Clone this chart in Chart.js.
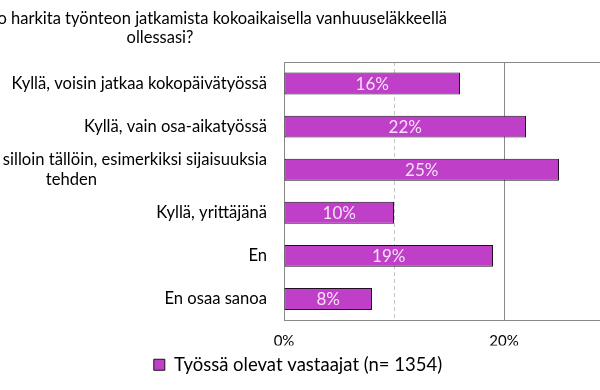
<!DOCTYPE html>
<html><head><meta charset="utf-8">
<script src="https://cdn.jsdelivr.net/npm/chart.js@4.4.0/dist/chart.umd.min.js"></script>
<style>
html,body{margin:0;padding:0;background:#fff;overflow:hidden;width:600px;height:390px;}
#wrap{position:absolute;left:-18px;top:0;width:632px;height:390px;}
</style></head><body>
<div id="wrap"><canvas id="c"></canvas></div>
<script>
const titleLines = ["Voisitko harkita työnteon jatkamista kokoaikaisella vanhuuseläkkeellä", "ollessasi?"];
const categories = [
  "Kyllä, voisin jatkaa kokopäivätyössä",
  "Kyllä, vain osa-aikatyössä",
  ["Kyllä, keikkatöinä silloin tällöin, esimerkiksi sijaisuuksia", "tehden"],
  "Kyllä, yrittäjänä",
  "En",
  "En osaa sanoa"
];
const seriesName = "Työssä olevat vastaajat (n= 1354)";
const values = [16, 22, 25, 10, 19, 8];
const axisMax = 30;
const labeledTicks = [0, 20];

const FONT = 'Lato';
const tickFont = {family: FONT, size: 16.6, lineHeight: 1.22};

const measureCtx = document.createElement('canvas').getContext('2d');
function centerWrapped(lines) {
  measureCtx.font = tickFont.size + 'px ' + FONT;
  const w0 = measureCtx.measureText(lines[0]).width;
  const sp = measureCtx.measureText('\u00a0').width;
  return lines.map((l, i) => {
    if (i === 0) return l;
    const w = measureCtx.measureText(l).width;
    const n = Math.max(0, Math.round((w0 - w) / 2 / sp));
    return l + '\u00a0'.repeat(n);
  });
}

const titlePlugin = {
  id: 'cropTitle',
  afterDraw(chart) {
    const ctx = chart.ctx;
    ctx.save();
    ctx.font = '16.5px ' + FONT;
    ctx.fillStyle = '#000';
    ctx.textBaseline = 'middle';
    ctx.textAlign = 'right';
    ctx.fillText(titleLines[0], 465, 19);
    ctx.textAlign = 'center';
    ctx.fillText(titleLines[1], 178, 38);
    ctx.restore();
  }
};

const valuePlugin = {
  id: 'barValues',
  afterDatasetsDraw(chart) {
    const ctx = chart.ctx;
    const meta = chart.getDatasetMeta(0);
    ctx.save();
    ctx.font = '17px ' + FONT;
    ctx.fillStyle = '#f7e2f7';
    ctx.textAlign = 'center';
    ctx.textBaseline = 'middle';
    meta.data.forEach((el, i) => {
      ctx.fillText(chart.data.datasets[0].data[i] + '%', (el.x + el.base) / 2, el.y + 1);
    });
    ctx.restore();
  }
};

new Chart(document.getElementById('c'), {
  type: 'bar',
  data: {
    labels: categories,
    datasets: [{
      label: seriesName,
      data: values,
      backgroundColor: '#bf3fc8',
      borderColor: '#1e1020',
      borderWidth: 1,
      borderSkipped: false,
      barPercentage: 0.51,
      categoryPercentage: 1.0
    }]
  },
  options: {
    indexAxis: 'y',
    responsive: true,
    maintainAspectRatio: false,
    animation: false,
    layout: {padding: {top: 62, left: 0, right: 0, bottom: 6}},
    plugins: {
      title: {display: false},
      tooltip: {enabled: false},
      legend: {
        position: 'bottom',
        labels: {boxWidth: 11, boxHeight: 11, padding: 10, color: '#000', font: {family: FONT, size: 18.5}}
      }
    },
    scales: {
      x: {
        min: 0, max: axisMax,
        ticks: {stepSize: 10, autoSkip: false, maxRotation: 0, padding: 12, color: '#000',
          font: {family: FONT, size: 15},
          callback: v => labeledTicks.includes(v) ? v + '%' : ''},
        grid: {drawTicks: false, lineWidth: 1,
          color: c => (c.tick && c.tick.value === 10) ? '#c4c4c4' : '#898989'},
        border: {color: '#898989',
          dash: c => (c.tick && c.tick.value === 10) ? [4, 3] : []},
        afterFit: s => { s.height = 25; s.paddingLeft = 0; s.paddingRight = 0; }
      },
      xTop: {
        axis: 'x', position: 'top', display: true,
        ticks: {display: false}, grid: {display: false, drawTicks: false},
        border: {color: '#898989'},
        afterFit: s => { s.height = 0; s.paddingLeft = 0; s.paddingRight = 0; }
      },
      y: {
        ticks: {padding: 17, color: '#000', font: tickFont, autoSkip: false,
          callback: function(v, i) { const l = this.getLabelForValue(v); return Array.isArray(l) ? centerWrapped(l) : l; }},
        grid: {display: false, drawTicks: false},
        border: {color: '#898989'},
        afterFit: s => { s.width = 302; s.paddingTop = 0; s.paddingBottom = 0; }
      }
    }
  },
  plugins: [titlePlugin, valuePlugin]
});
</script>
</body></html>
